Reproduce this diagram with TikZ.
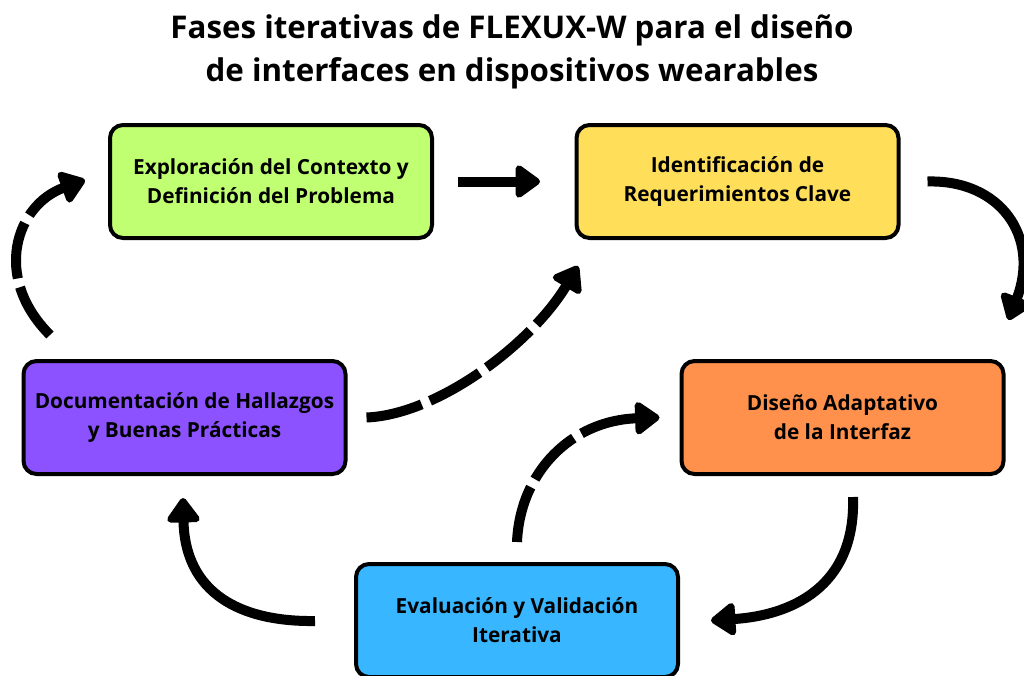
\documentclass[tikz,border=0pt]{standalone}
\usepackage{fontspec}
\setmainfont{Open Sans}
\usetikzlibrary{arrows.meta,calc}
\definecolor{cgreen}{HTML}{C1FF72}
\definecolor{cyellow}{HTML}{FFDE59}
\definecolor{corange}{HTML}{FF914D}
\definecolor{cblue}{HTML}{38B6FF}
\definecolor{cpurple}{HTML}{8C52FF}
\begin{document}
\begin{tikzpicture}[x=1pt,y=-1pt,
  phase/.style={draw=black, line width=4pt, rounded corners=13pt,
    minimum width=322pt, minimum height=113pt, inner sep=0pt, align=center,
    font=\fontsize{20.8}{29}\selectfont\bfseries},
  titletext/.style={anchor=base, inner sep=0pt, font=\fontsize{31.3}{44}\selectfont\bfseries},
  flow/.style={line width=10pt, -{Triangle[length=27pt,width=37pt,round]}},
  loopflow/.style={flow, dash pattern=on 57pt off 9pt},
]
\useasboundingbox (0,0) rectangle (1024,675);
\fill[white] (0,0) rectangle (1024,675);

\node[titletext] (title1) at (512,38) {Fases iterativas de FLEXUX-W para el diseño};
\node[titletext] (title2) at (512,81) {de interfaces en dispositivos wearables};

\node[phase, fill=cgreen]  (explore) at (271,181.5) {Exploración del Contexto y\\Definición del Problema};
\node[phase, fill=cyellow] (ident)   at (737.5,181.5) {Identificación de\\Requerimientos Clave};
\node[phase, fill=corange] (design)  at (842.5,417.5) {Diseño Adaptativo\\de la Interfaz};
\node[phase, fill=cblue]   (eval)    at (517,620.5) {Evaluación y Validación\\Iterativa};
\node[phase, fill=cpurple] (doc)     at (184.5,417.5) {Documentación de Hallazgos\\y Buenas Prácticas};

% connector end points
\coordinate (a1s) at ($(explore.east)+(24,0)$);
\coordinate (a1e) at ($(ident.west)+(-34.5,0)$);
\coordinate (a2s) at ($(ident.east)+(27,0)$);
\coordinate (a2e) at ($(design.north)+(166,-39)$);
\coordinate (a3s) at ($(design.south)+(10.5,21)$);
\coordinate (a3e) at ($(eval.east)+(31,0)$);
\coordinate (a4s) at ($(eval.west)+(-39,0.5)$);
\coordinate (a4e) at ($(doc.south)+(-1.5,22)$);
\coordinate (a5s) at ($(eval.north)+(0,-20)$);
\coordinate (a5e) at ($(design.west)+(-20,0)$);
\coordinate (a6s) at ($(doc.east)+(19,0)$);
\coordinate (a6e) at ($(ident.south)+(-159.5,26)$);
\coordinate (a7s) at ($(doc.north)+(-134.5,-24)$);
\coordinate (a7e) at ($(explore.west)+(-23,-1.5)$);

\draw[flow] (a1s) -- (a1e);
\draw[flow] (a2s) .. controls +(73,-2) and +(32,-83) .. (a2e);
\draw[flow] (a3s) .. controls +(3,91) and +(79,-5) .. (a3e);
\draw[flow] (a4s) .. controls +(-75,1) and +(2,95) .. (a4e);
\draw[loopflow] (a5s) .. controls +(3,-70) and +(-88,3) .. (a5e);
\draw[loopflow] (a6s) .. controls +(72,-3) and +(-46,77) .. (a6e);
\draw[loopflow] (a7s) .. controls +(-58,-58) and +(-69,25) .. (a7e);
\end{tikzpicture}
\end{document}
